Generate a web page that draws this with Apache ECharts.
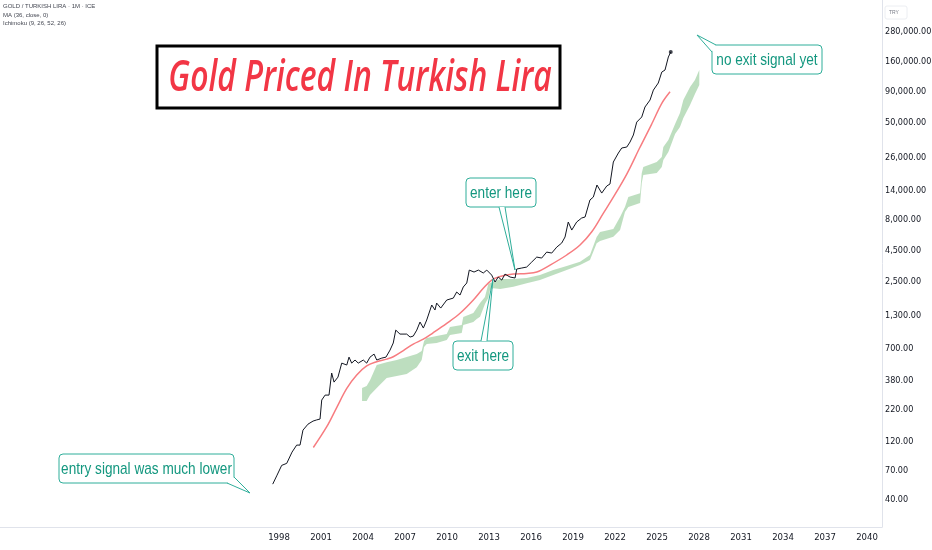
<!DOCTYPE html>
<html><head><meta charset="utf-8">
<script src="https://cdn.jsdelivr.net/npm/echarts@6/dist/echarts.min.js"></script>
<style>html,body{margin:0;padding:0;background:#fff}#c{width:932px;height:550px}</style>
</head><body><div id="c"></div>
<script>
// ---- data ----
const yearTicks = [1998,2001,2004,2007,2010,2013,2016,2019,2022,2025,2028,2031,2034,2037,2040];
const priceTicks = [40,70,120,220,380,700,1300,2500,4500,8000,14000,26000,50000,90000,160000,280000];

// monthly close of gold in TRY, [year, price]
const price = [[1997.55,54],[1997.86,64],[1998.19,77],[1998.55,80],[1998.93,99],[1999.26,113],[1999.5,113],[1999.71,150],[2000.07,168],[2000.43,178],[2000.69,182],[2000.93,185],[2001.05,265],[2001.29,291],[2001.57,291],[2001.76,442],[2001.93,372],[2002.21,409],[2002.48,533],[2002.84,514],[2003.0,597],[2003.19,533],[2003.43,565],[2003.66,533],[2004.02,565],[2004.26,533],[2004.5,597],[2004.79,632],[2004.98,565],[2005.34,586],[2005.64,597],[2005.93,682],[2006.16,780],[2006.34,995],[2006.64,923],[2007.12,923],[2007.36,873],[2007.59,889],[2007.84,995],[2008.07,1159],[2008.31,1035],[2008.55,1205],[2008.91,1600],[2009.14,1455],[2009.26,1660],[2009.55,1510],[2009.98,1758],[2010.45,1824],[2010.69,2046],[2010.93,1932],[2011.16,2249],[2011.41,2427],[2011.59,3098],[2011.93,2985],[2012.24,3098],[2012.59,2931],[2012.84,3098],[2013.19,2818],[2013.43,2472],[2013.66,2716],[2013.91,2564],[2014.14,2871],[2014.5,2716],[2014.86,2667],[2014.98,3162],[2015.34,3221],[2015.69,3281],[2016.05,3606],[2016.16,3540],[2016.41,3963],[2016.76,3890],[2017.12,4355],[2017.48,4276],[2017.84,4786],[2018.19,5164],[2018.43,5794],[2018.66,7691],[2018.91,6607],[2019.26,7691],[2019.62,8299],[2019.86,8453],[2020.21,11670],[2020.45,12330],[2020.71,15490],[2021.05,13300],[2021.41,15200],[2021.64,15780],[2021.88,23930],[2022.24,28380],[2022.48,31190],[2022.84,31770],[2023.07,34910],[2023.31,39900],[2023.55,50930],[2023.91,56100],[2024.14,67760],[2024.5,77270],[2024.74,93330],[2025.09,106700],[2025.34,131200],[2025.57,136400],[2025.81,174600],[2025.98,191700]];

// MA (36, close)
const ma36 = [[2000.45,108],[2001.41,160],[2002.12,230],[2002.84,330],[2003.55,425],[2004.26,505],[2004.98,547],[2005.69,575],[2006.16,601],[2006.88,676],[2007.59,764],[2008.31,839],[2008.98,942],[2009.98,1130],[2010.93,1368],[2011.88,1758],[2012.59,2193],[2013.19,2564],[2013.79,2742],[2014.74,2871],[2015.69,2904],[2016.41,2985],[2017.36,3404],[2018.55,4121],[2019.5,4977],[2020.34,6397],[2021.16,9057],[2021.76,11670],[2022.84,19050],[2023.79,31770],[2024.62,49090],[2025.34,72610],[2025.93,90360]];

// Ichimoku cloud edges
const cloudYears = [2003.93,2004.26,2004.5,2004.98,2005.69,2006.41,2007.12,2007.84,2008.19,2008.36,2008.55,2009.26,2009.98,2010.21,2011.05,2011.16,2011.88,2012.12,2012.36,2012.71,2012.95,2013.07,2013.31,2013.79,2014.74,2015.69,2016.64,2017.59,2018.55,2019.5,2020.21,2020.69,2020.93,2021.88,2022.36,2022.71,2022.95,2023.79,2023.91,2024.02,2024.98,2025.34,2025.45,2025.81,2026.29,2026.64,2026.88,2027.36,2027.71,2028.02];
const spanTop = [333,345,386,514,543,565,597,632,670,809,857,889,923,1054,1094,1274,1374,1510,1660,1858,2377,2427,2472,2612,2612,2667,2818,3098,3342,3631,4121,5794,6368,6730,8453,10210,12330,13240,19410,21780,23930,26300,31770,36310,49090,60400,77270,98860,113000,136400];
const spanBottom = [260,260,291,333,402,417,434,494,565,723,764,780,824,906,942,1094,1159,1227,1282,1629,1824,2123,2193,2163,2259,2410,2564,2818,3098,3404,3750,5140,5370,5821,6607,9290,10210,11020,16070,18710,19410,21780,24830,28910,40640,46340,54950,70310,86700,102600];

// ---- drawing ----
const chart = echarts.init(document.getElementById('c'));
const TEAL_BORDER = '#2fae9a';
const TEAL_TEXT = '#13977f';
const NARROW = "'DejaVu Sans Condensed','Liberation Sans',sans-serif";

function callout(box, label, base, tip) {
  return [
    { type: 'rect', z: 100, shape: { x: box[0], y: box[1], width: box[2], height: box[3], r: 4 },
      style: { fill: '#fff', stroke: TEAL_BORDER, lineWidth: 1 } },
    { type: 'polygon', z: 101, shape: { points: [base[0], base[1], tip] },
      style: { fill: '#fff', stroke: null } },
    { type: 'polyline', z: 102, shape: { points: [base[0], tip, base[1]] },
      style: { stroke: TEAL_BORDER, lineWidth: 1, fill: null } },
    { type: 'group', z: 103, x: box[0] + box[2] / 2, y: box[1] + box[3] / 2 + 1, scaleX: 0.8,
      children: [{ type: 'text', z: 103, style: { x: 0, y: 0, text: label, align: 'center', verticalAlign: 'middle',
        font: "17px 'Liberation Sans', Arial, sans-serif", fill: TEAL_TEXT } }] }
  ];
}

const graphics = [].concat(
  [
    { type: 'text', style: { x: 3, y: 3, text: 'GOLD / TURKISH LIRA · 1M · ICE', font: "6px 'Liberation Sans', sans-serif", fill: '#434651' } },
    { type: 'text', style: { x: 3, y: 12, text: 'MA (36, close, 0)', font: "6px 'Liberation Sans', sans-serif", fill: '#434651' } },
    { type: 'text', style: { x: 3, y: 20, text: 'Ichimoku (9, 26, 52, 26)', font: "6px 'Liberation Sans', sans-serif", fill: '#434651' } },
    { type: 'rect', shape: { x: 885, y: 6, width: 22, height: 13, r: 2 }, style: { fill: '#fff', stroke: '#eceef2', lineWidth: 1 } },
    { type: 'text', style: { x: 889, y: 10, text: 'TRY', font: "5px 'Liberation Sans', sans-serif", fill: '#787b86' } },
    { type: 'rect', z: 100, shape: { x: 157, y: 46, width: 403, height: 62 }, style: { fill: '#fff', stroke: '#000', lineWidth: 3 } },
    { type: 'group', z: 101, x: 360, y: 78, scaleX: 0.725,
      children: [{ type: 'text', z: 101, style: { x: 0, y: 0, text: 'Gold Priced In Turkish Lira', align: 'center', verticalAlign: 'middle',
        font: "italic 600 44px 'Open Sans', sans-serif", fill: '#f23645' } }] }
  ],
  callout([466, 178, 70, 29], 'enter here', [[499, 207], [505, 207]], [515, 270]),
  callout([453, 341, 60, 29], 'exit here', [[481, 341], [487, 341]], [493, 279]),
  callout([712, 45, 110, 29], 'no exit signal yet', [[712, 52], [716, 45]], [697, 35]),
  callout([59, 454, 175, 29], 'entry signal was much lower', [[227, 483], [234, 477]], [250, 493])
);

chart.setOption({
  animation: false,
  backgroundColor: '#fff',
  grid: { left: 0, right: 50, top: 0, bottom: 23, outerBoundsMode: 'none', containLabel: false },
  xAxis: {
    type: 'value', min: 1978.07, max: 2041.07,
    axisLine: { show: true, lineStyle: { color: '#e0e3eb' } },
    axisTick: { show: false }, splitLine: { show: false },
    axisLabel: { customValues: yearTicks, formatter: v => String(Math.round(v)), color: '#131722',
      fontSize: 9.5, fontFamily: NARROW, margin: 6 }
  },
  yAxis: {
    type: 'log', logBase: 10, position: 'right', min: 24, max: 513000,
    axisLine: { show: true, lineStyle: { color: '#e0e3eb' } },
    axisTick: { show: false }, splitLine: { show: false },
    axisLabel: { customValues: priceTicks, color: '#131722', fontSize: 9, fontFamily: NARROW, margin: 3,
      formatter: v => Math.round(v).toLocaleString('en-US', { minimumFractionDigits: 2, maximumFractionDigits: 2 }) }
  },
  series: [
    { type: 'custom', z: 1, silent: true, clip: true,
      data: [[cloudYears[0], spanTop[0]]],
      renderItem: (params, api) => {
        const pts = [];
        for (let i = 0; i < cloudYears.length; i++) pts.push(api.coord([cloudYears[i], spanTop[i]]));
        for (let i = cloudYears.length - 1; i >= 0; i--) pts.push(api.coord([cloudYears[i], spanBottom[i]]));
        return { type: 'polygon', shape: { points: pts }, style: { fill: 'rgba(67,160,71,0.35)' } };
      } },
    { type: 'line', z: 2, data: ma36, showSymbol: false, smooth: 0.35, silent: true,
      lineStyle: { color: '#f77c80', width: 1.5 } },
    { type: 'line', z: 3, data: price, showSymbol: false, silent: true,
      lineStyle: { color: '#131722', width: 1 } },
    { type: 'scatter', z: 4, data: [price[price.length - 1]], symbolSize: 4, silent: true,
      itemStyle: { color: '#131722' } }
  ],
  graphic: graphics
});
</script></body></html>
